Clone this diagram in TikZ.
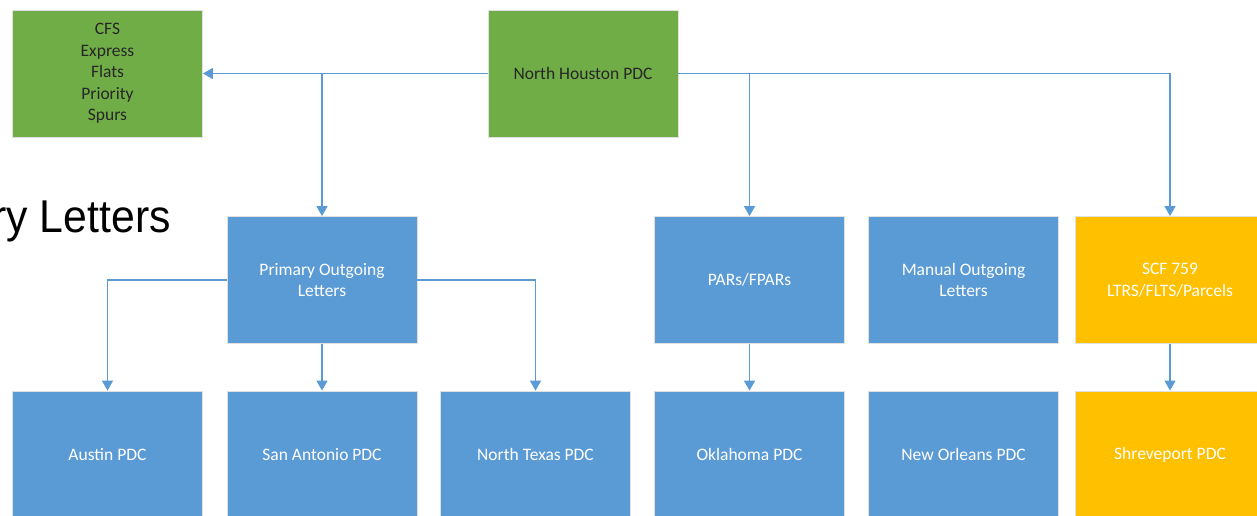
\documentclass[tikz,border=0pt]{standalone}
\usepackage{fontspec}
\setmainfont{Carlito}
\newfontfamily\arialfont{Liberation Sans}
\usetikzlibrary{arrows.meta}
\definecolor{grn}{HTML}{70AD47}
\definecolor{blu}{HTML}{5B9BD5}
\definecolor{yel}{HTML}{FFC000}
\begin{document}
\begin{tikzpicture}[x=1pt,y=-1pt,
 box/.style={draw=black!12, line width=0.8pt, minimum width=190pt, minimum height=127pt, inner sep=0pt, align=center, font=\fontsize{17.5}{21.5}\selectfont},
 gbox/.style={box, fill=grn, text=black!85},
 bbox/.style={box, fill=blu, text=white},
 ybox/.style={box, fill=yel, text=white},
 conn/.style={draw=blu, line width=1.5pt, -{Triangle[length=10pt,width=11pt]}}]
\useasboundingbox (0,0) rectangle (1257,515);
\clip (0,0) rectangle (1257,515);
\node[gbox] (cfs) at (107.5,73.5) {CFS\\Express\\Flats\\Priority\\Spurs};
\node[gbox] (nh) at (583,73.5) {North Houston PDC};
\node[bbox] (pol) at (322,280) {Primary Outgoing\\Letters};
\node[bbox] (par) at (749.5,280) {PARs/FPARs};
\node[bbox] (mol) at (963.5,280) {Manual Outgoing\\Letters};
\node[ybox] (scf) at (1170,280) {SCF 759\\LTRS/FLTS/Parcels};
\node[bbox] (aus) at (107.5,454.5) {Austin PDC};
\node[bbox] (san) at (322,454.5) {San Antonio PDC};
\node[bbox] (ntx) at (535.5,454.5) {North Texas PDC};
\node[bbox] (okl) at (749.5,454.5) {Oklahoma PDC};
\node[bbox] (nor) at (963.5,454.5) {New Orleans PDC};
\node[ybox] (shr) at (1170,454.5) {Shreveport PDC};
\node[font=\arialfont\fontsize{46}{46}\selectfont, anchor=base east, inner sep=0pt] (title) at (171,232) {\scalebox{0.93}[1]{ry Letters}};
\draw[conn] (nh.west) -- (cfs.east);
\draw[conn] (nh.west) -| (pol.north);
\draw[conn] (nh.east) -| (scf.north);
\draw[conn] (nh.east) -| (par.north);
\draw[conn] (pol.west) -| (aus.north);
\draw[conn] (pol.south) -- (san.north);
\draw[conn] (pol.east) -| (ntx.north);
\draw[conn] (par.south) -- (okl.north);
\draw[conn] (scf.south) -- (shr.north);
\end{tikzpicture}
\end{document}
